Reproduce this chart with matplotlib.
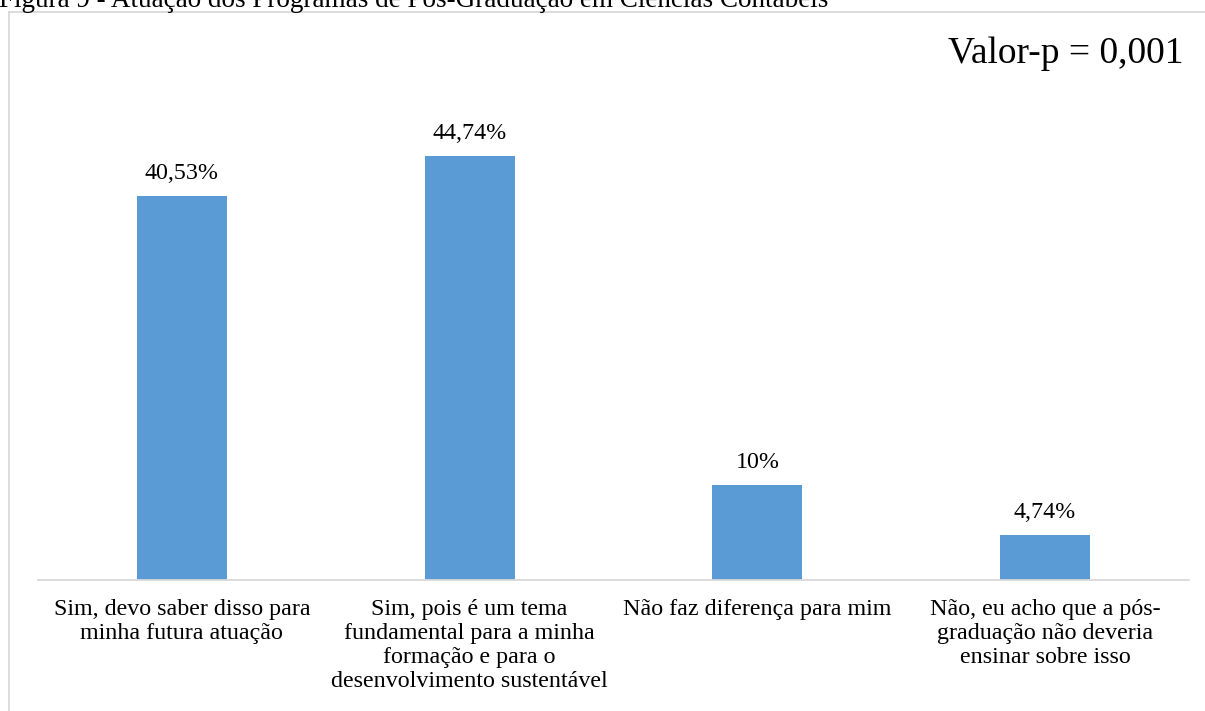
import matplotlib
matplotlib.use("Agg")
import matplotlib.pyplot as plt
from matplotlib.lines import Line2D

plt.rcParams['font.family'] = ['Liberation Serif', 'DejaVu Serif']

categories = [
    "Sim, devo saber disso para\nminha futura atuação",
    "Sim, pois é um tema\nfundamental para a minha\nformação e para o\ndesenvolvimento sustentável",
    "Não faz diferença para mim",
    "Não, eu acho que a pós-\ngraduação não deveria\nensinar sobre isso",
]
values = [40.53, 44.74, 10.0, 4.74]
value_labels = ["40,53%", "44,74%", "10%", "4,74%"]
title = "Figura 9 - Atuação dos Programas de Pós-Graduação em Ciências Contábeis"
pvalue_text = "Valor-p = 0,001"

W, H = 1205, 711
fig = plt.figure(figsize=(W / 100, H / 100), dpi=100)

# plot area in pixel terms
left_px, right_px, base_px, top_px = 38, 1189, 580, 106.5
ax = fig.add_axes([left_px / W, 1 - base_px / H,
                   (right_px - left_px) / W, (base_px - top_px) / H])

x = list(range(len(categories)))
ax.bar(x, values, width=0.3125, color="#5B9BD5", zorder=2)
ax.set_xlim(-0.5, len(categories) - 0.5)
ax.set_ylim(0, 50)

for xi, v, lab in zip(x, values, value_labels):
    ax.annotate(lab, (xi, v), xytext=(0, 9), textcoords="offset points",
                ha="center", va="bottom", fontsize=17.3, color="#000000")

for side in ["top", "right", "left"]:
    ax.spines[side].set_visible(False)
ax.spines["bottom"].set_color("#d9d9d9")
ax.spines["bottom"].set_linewidth(1.3)
ax.set_yticks([])
ax.set_xticks(x)
ax.set_xticklabels(categories, fontsize=17.3, linespacing=1.18)
ax.tick_params(axis="x", length=0, pad=14)

# outer chart frame (extends past the right and bottom edges)
fig.add_artist(Line2D([8.5 / W, 8.5 / W], [1 - 12 / H, -0.1],
                      transform=fig.transFigure, color="#d9d9d9", lw=1.3))
fig.add_artist(Line2D([8.5 / W, 1.1], [1 - 12 / H, 1 - 12 / H],
                      transform=fig.transFigure, color="#d9d9d9", lw=1.3))

fig.text(1184 / W, 1 - 63 / H, pvalue_text, ha="right", va="baseline",
         fontsize=27, color="#000000")
fig.text(-1 / W, 1 - 7 / H, title, ha="left", va="baseline",
         fontsize=19.5, color="#000000")

fig.savefig("out.png", dpi=100)
